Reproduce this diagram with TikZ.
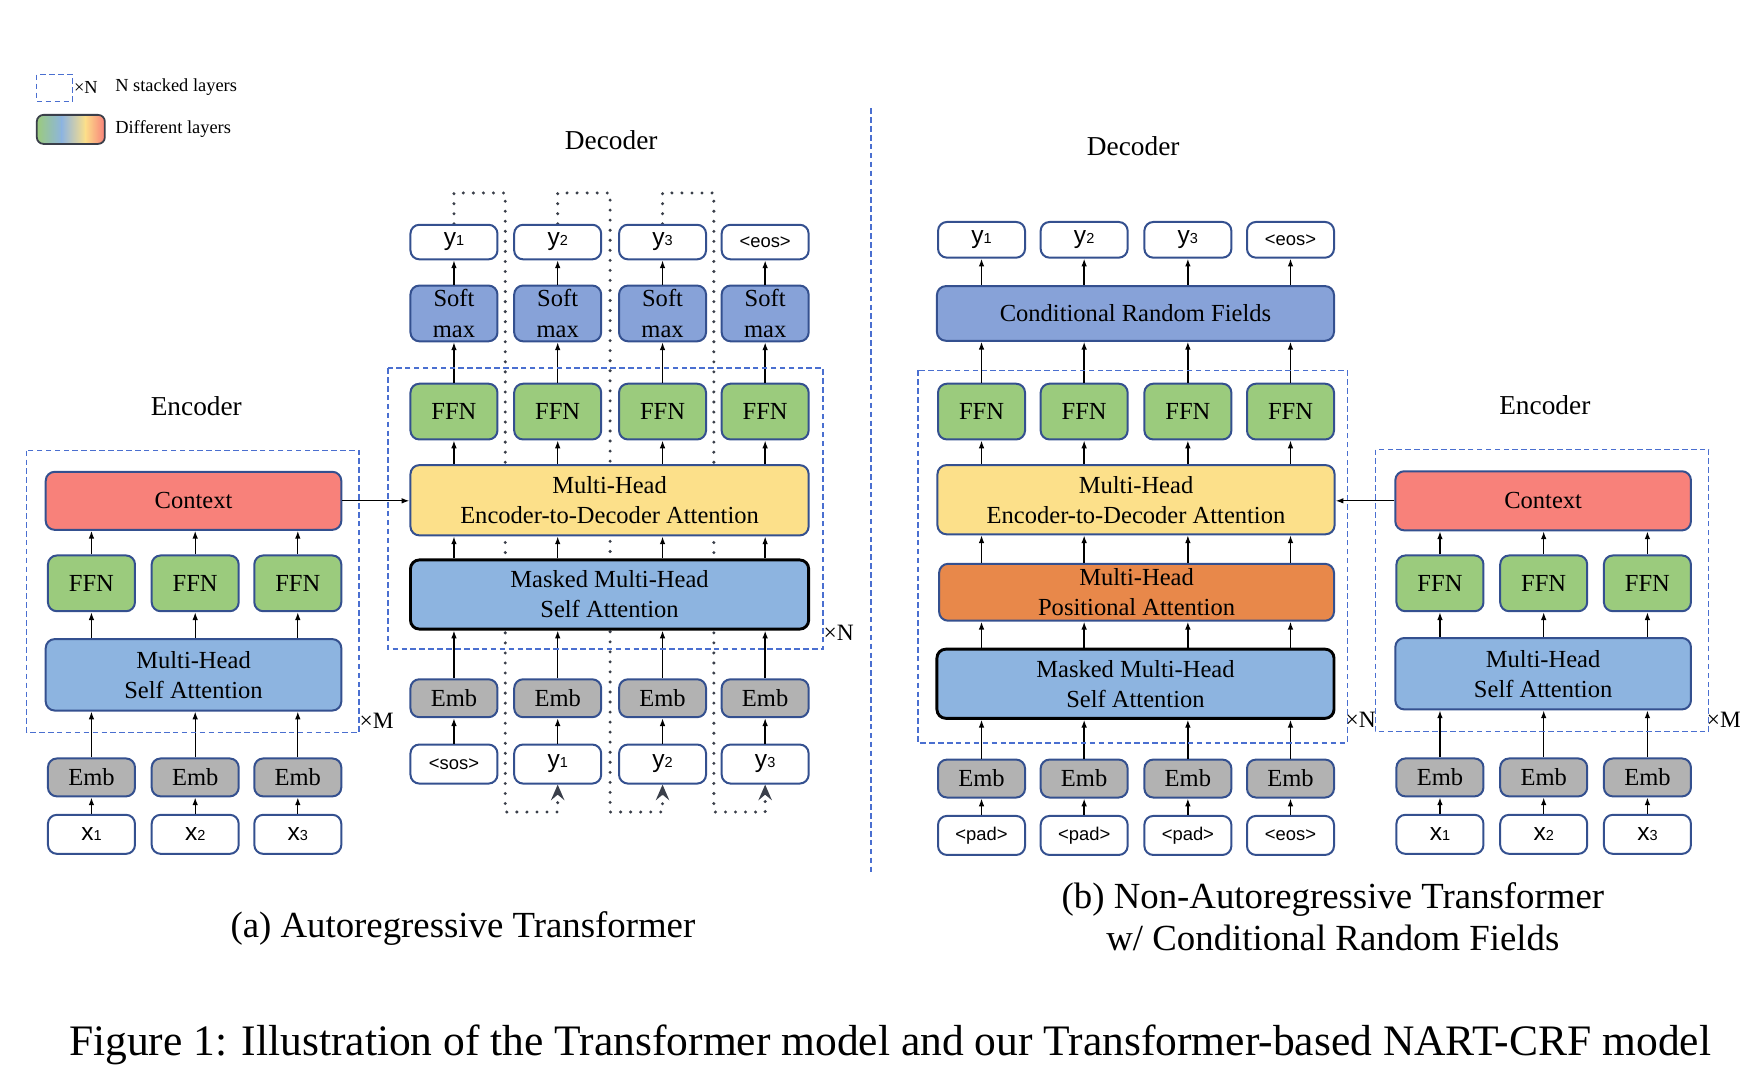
\documentclass[tikz,border=0pt]{standalone}
\usepackage{fontspec}
\setmainfont{Liberation Serif}
\setsansfont{Liberation Sans}
\usetikzlibrary{arrows.meta,backgrounds}

\definecolor{edgeblue}{HTML}{34508F}
\definecolor{dashblue}{HTML}{4A6FD0}
\definecolor{ctxred}{HTML}{F8817A}
\definecolor{ffngreen}{HTML}{9BCB7D}
\definecolor{embgray}{HTML}{B2B2B2}
\definecolor{attblue}{HTML}{8DB4E0}
\definecolor{smblue}{HTML}{87A2D8}
\definecolor{attyellow}{HTML}{FCE08A}
\definecolor{posorange}{HTML}{E8884A}
\definecolor{loopgray}{HTML}{3A3F4A}

\newcommand\boxfont{\fontsize{11}{13.5}\selectfont}
\newcommand\tokfont{\sffamily\fontsize{8.25}{9}\selectfont}
\newcommand\tok[2]{{\fontsize{11}{11}\selectfont #1}{\fontsize{6.5}{6.5}\selectfont #2}}

\tikzset{
  blk/.style={draw=edgeblue, line width=0.9pt, rounded corners=4pt, inner sep=0pt,
    align=center, font=\boxfont, minimum width=39pt},
  ffn/.style={blk, fill=ffngreen, minimum height=25pt},
  emb/.style={blk, fill=embgray, minimum height=17pt},
  tokbox/.style={blk, fill=white, font=\tokfont, minimum height=17.5pt},
  wide/.style={blk, minimum width=#1},
  masked/.style={draw=black, line width=1.3pt},
  arr/.style={-{Latex[length=3.5pt,width=2.5pt]}, line width=0.6pt},
  fb/.style={-{Stealth[length=7pt,width=6pt,inset=2.5pt]}, loopgray, line width=1.5pt,
    line cap=round, dash pattern=on 0pt off 4.5pt},
  stack/.style={dashblue, line width=0.6pt, dash pattern=on 2.5pt off 1.5pt},
  times/.style={anchor=west, inner sep=0pt, font=\fontsize{10.5}{12}\selectfont},
  title/.style={font=\fontsize{12.25}{14}\selectfont},
  legend/.style={anchor=west, inner sep=0pt, font=\fontsize{8.25}{10}\selectfont},
}

\begin{document}
\begin{tikzpicture}[x=0.5pt,y=-0.5pt]
  \useasboundingbox (0,0) rectangle (1560,965);

  % legend
  \draw[stack] (33,67) rectangle (65,91);
  \node[legend] (legx) at (66,78) {×N};
  \node[legend] (legstack) at (103,78) {N stacked layers};
  \begin{scope}
    \clip[rounded corners=3pt] (33,103) rectangle (94,129);
    \shade[left color=ffngreen, right color=attblue] (33,103) rectangle (56,129);
    \shade[left color=attblue, right color=attyellow] (55,103) rectangle (77,129);
    \shade[left color=attyellow, right color=ctxred] (76,103) rectangle (94,129);
  \end{scope}
  \draw[loopgray, line width=0.8pt, rounded corners=3pt] (33,103) rectangle (94,129);
  \node[legend] (leglayers) at (103,116) {Different layers};

  % (a) encoder
  \node[title] (aetitle) at (176,364) {Encoder};
  \foreach \i/\x in {1/82,2/175,3/267} {
    \node[tokbox] (aex\i) at (\x,748) {\tok{x}{\i}};
    \node[emb] (aeemb\i) at (\x,697) {Emb};
    \node[ffn] (aeffn\i) at (\x,523) {FFN};
  }
  \node[wide=132.5pt, fill=attblue, minimum height=32pt] (aesa) at (173.5,605) {Multi-Head\\Self Attention};
  \node[wide=132.5pt, fill=ctxred, minimum height=26pt] (aectx) at (173.5,449) {Context};
  \foreach \i in {1,2,3} {
    \draw[arr] (aex\i) -- (aeemb\i);
    \draw[arr] (aeemb\i) -- (aeemb\i |- aesa.south);
    \draw[arr] (aesa.north -| aeffn\i) -- (aeffn\i);
    \draw[arr] (aeffn\i) -- (aeffn\i |- aectx.south);
  }
  \draw[stack] (24,404) rectangle (322,657);
  \node[times] (aeM) at (322,646) {×M};

  % (a) decoder
  \node[title] (adtitle) at (548,126) {Decoder};
  \foreach \i/\x/\inlab/\outlab in {1/407/{<sos>}/{\tok{y}{1}}, 2/500/{\tok{y}{1}}/{\tok{y}{2}},
      3/594/{\tok{y}{2}}/{\tok{y}{3}}, 4/686/{\tok{y}{3}}/{<eos>}} {
    \node[tokbox] (adin\i) at (\x,685) {\inlab};
    \node[emb] (ademb\i) at (\x,626) {Emb};
    \node[ffn] (adffn\i) at (\x,369) {FFN};
    \node[blk, fill=smblue, minimum height=25pt] (adsm\i) at (\x,281) {Soft\\max};
    \node[tokbox, minimum height=15.5pt] (adout\i) at (\x,217) {\outlab};
  }
  \node[wide=178.5pt, fill=attblue, masked, minimum height=31pt] (admask) at (546.5,533) {Masked Multi-Head\\Self Attention};
  \node[wide=178.5pt, fill=attyellow, minimum height=31.5pt] (adatt) at (546.5,448.5) {Multi-Head\\Encoder-to-Decoder Attention};
  \foreach \i in {1,...,4} {
    \draw[arr] (adin\i) -- (ademb\i);
    \draw[arr] (ademb\i) -- (ademb\i |- admask.south);
    \draw[arr] (admask.north -| ademb\i) -- (ademb\i |- adatt.south);
    \draw[arr] (adatt.north -| adffn\i) -- (adffn\i);
    \draw[arr] (adffn\i) -- (adsm\i);
    \draw[arr] (adsm\i) -- (adout\i);
  }
  % outputs fed back as next inputs, behind the boxes
  \begin{pgfonlayer}{background}
    \foreach \i/\j/\g in {1/2/453,2/3/547,3/4/640}
      \draw[fb] (adout\i.north) |- (\g,173) -- (\g,728) -| (adin\j.south);
  \end{pgfonlayer}
  \draw[stack] (348,330) rectangle (738,582);
  \node[times] (adN) at (738,567) {×N};
  \draw[arr] (aectx.east) -- (aectx.east -| adatt.west);

  \node[font=\fontsize{16.5}{19}\selectfont] (capa) at (415,832) {(a) Autoregressive Transformer};

  % divider
  \draw[stack] (781,97) -- (781,785);

  % (b) decoder
  \node[title] (bdtitle) at (1016,131) {Decoder};
  \foreach \i/\x/\outlab in {1/880/{\tok{y}{1}}, 2/972/{\tok{y}{2}}, 3/1065/{\tok{y}{3}}, 4/1157/{<eos>}} {
    \node[tokbox] (bdin\i) at (\x,749) {\ifnum\i=4 <eos>\else <pad>\fi};
    \node[emb] (bdemb\i) at (\x,698) {Emb};
    \node[ffn] (bdffn\i) at (\x,369) {FFN};
    \node[tokbox, minimum height=16pt] (bdout\i) at (\x,215) {\outlab};
  }
  \node[wide=178pt, fill=attblue, masked, minimum height=31pt] (bdmask) at (1018,613) {Masked Multi-Head\\Self Attention};
  \node[wide=177pt, fill=posorange, minimum height=25.5pt] (bdpos) at (1019,531) {Multi-Head\\Positional Attention};
  \node[wide=178pt, fill=attyellow, minimum height=31pt] (bdatt) at (1018.5,448) {Multi-Head\\Encoder-to-Decoder Attention};
  \node[wide=178pt, fill=smblue, minimum height=24.5pt] (bdcrf) at (1018,281) {Conditional Random Fields};
  \foreach \i in {1,...,4} {
    \draw[arr] (bdin\i) -- (bdemb\i);
    \draw[arr] (bdemb\i) -- (bdemb\i |- bdmask.south);
    \draw[arr] (bdmask.north -| bdemb\i) -- (bdemb\i |- bdpos.south);
    \draw[arr] (bdpos.north -| bdemb\i) -- (bdemb\i |- bdatt.south);
    \draw[arr] (bdatt.north -| bdffn\i) -- (bdffn\i);
    \draw[arr] (bdffn\i) -- (bdffn\i |- bdcrf.south);
    \draw[arr] (bdcrf.north -| bdout\i) -- (bdout\i);
  }
  \draw[stack] (823,332) rectangle (1208,666);
  \node[times] (bdN) at (1206,645) {×N};

  % (b) encoder
  \node[title] (betitle) at (1385,363) {Encoder};
  \foreach \i/\x in {1/1291,2/1384,3/1477} {
    \node[tokbox] (bex\i) at (\x,748) {\tok{x}{\i}};
    \node[emb] (beemb\i) at (\x,697) {Emb};
    \node[ffn] (beffn\i) at (\x,523) {FFN};
  }
  \node[wide=132.5pt, fill=attblue, minimum height=32pt] (besa) at (1383.5,604) {Multi-Head\\Self Attention};
  \node[wide=132.5pt, fill=ctxred, minimum height=26.5pt] (bectx) at (1383.5,449) {Context};
  \foreach \i in {1,2,3} {
    \draw[arr] (bex\i) -- (beemb\i);
    \draw[arr] (beemb\i) -- (beemb\i |- besa.south);
    \draw[arr] (besa.north -| beffn\i) -- (beffn\i);
    \draw[arr] (beffn\i) -- (beffn\i |- bectx.south);
  }
  \draw[stack] (1233,403) rectangle (1532,656);
  \node[times] (beM) at (1530,645) {×M};
  \draw[arr] (bectx.west) -- (bectx.west -| bdatt.east);

  \node[font=\fontsize{16.5}{19}\selectfont, align=center] (capb) at (1195,822) {(b) Non-Autoregressive Transformer\\w/ Conditional Random Fields};

  \node[font=\fontsize{19.5}{22}\selectfont] (figcap) at (798,937) {Figure 1: Illustration of the Transformer model and our Transformer-based NART-CRF model};
\end{tikzpicture}
\end{document}
